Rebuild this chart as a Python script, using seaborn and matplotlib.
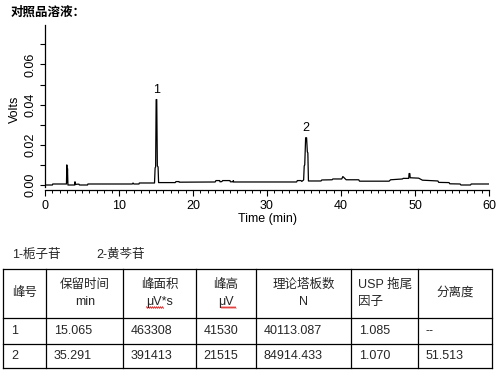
import numpy as np
import pandas as pd
import matplotlib
matplotlib.use("Agg")
import matplotlib.pyplot as plt
from matplotlib.ticker import MultipleLocator
import seaborn as sns

# ---------------- data ----------------
title = "对照品溶液："
x_label = "Time (min)"
y_label = "Volts"

time_min = [0.0, 1.0, 1.05, 2.90, 2.95, 2.99, 3.04, 3.10, 4.00, 4.05, 4.12, 4.30,
            4.60, 4.65, 5.75, 5.80, 11.8, 11.9, 12.0, 12.7, 12.75, 14.80, 14.88,
            14.95, 15.02, 15.10, 15.18, 15.28, 15.35, 17.6, 17.7, 18.1, 18.15,
            23.0, 23.1, 23.6, 23.65, 23.9, 24.0, 25.0, 25.05, 25.4, 25.45, 25.5,
            34.0, 34.1, 34.6, 34.7, 34.95, 35.03, 35.1, 35.22, 35.35, 35.45,
            35.52, 35.6, 37.3, 37.4, 38.8, 38.9, 40.1, 40.25, 40.45, 40.7, 42.4,
            42.5, 46.5, 46.7, 48.3, 48.4, 49.15, 49.2, 49.3, 49.35, 50.5, 51.0,
            53.1, 53.2, 54.6, 54.7, 56.1, 56.2, 57.5, 57.6, 60.0]
volts = [0.0000, 0.0000, 0.0005, 0.0005, 0.0100, 0.0015, 0.0082, 0.0000, 0.0000,
         0.0016, 0.0002, 0.0004, 0.0004, 0.0000, 0.0000, 0.0005, 0.0005, 0.0010,
         0.0005, 0.0005, 0.0010, 0.0010, 0.0085, 0.0090, 0.0425, 0.0425, 0.0095,
         0.0090, 0.0012, 0.0012, 0.0017, 0.0017, 0.0014, 0.0015, 0.0022, 0.0022,
         0.0016, 0.0017, 0.0022, 0.0022, 0.0016, 0.0016, 0.0022, 0.0015, 0.0015,
         0.0022, 0.0022, 0.0018, 0.0025, 0.0095, 0.0100, 0.0235, 0.0235, 0.0165,
         0.0160, 0.0020, 0.0020, 0.0025, 0.0026, 0.0030, 0.0030, 0.0042, 0.0035,
         0.0026, 0.0026, 0.0019, 0.0019, 0.0026, 0.0030, 0.0033, 0.0033, 0.0057,
         0.0057, 0.0036, 0.0034, 0.0024, 0.0020, 0.0013, 0.0012, 0.0006, 0.0005,
         0.0000, 0.0000, 0.0005, 0.0005]

peak_labels = ["1", "2"]
peak_rt = [15.065, 35.291]

legend_items = ["1-栀子苷", "2-黄芩苷"]
table_header = ["峰号", "保留时间\nmin", "峰面积\nμV*s", "峰高\nμV",
                "理论塔板数\nN", "USP 拖尾\n因子", "分离度"]
table_rows = [["1", "15.065", "463308", "41530", "40113.087", "1.085", "--"],
              ["2", "35.291", "391413", "21515", "84914.433", "1.070", "51.513"]]

# ---------------- style ----------------
sns.set_theme(style="ticks")
plt.rcParams["font.family"] = ["Liberation Sans", "Noto Sans CJK SC", "DejaVu Sans"]
plt.rcParams["axes.unicode_minus"] = False
FS = 9

W, H = 502, 379
fig = plt.figure(figsize=(W / 100, H / 100), dpi=100)

# ---------------- chromatogram ----------------
ax_left, ax_right, ax_top, ax_bottom = 45, 489, 25, 190
ax = fig.add_axes([ax_left / W, 1 - ax_bottom / H,
                   (ax_right - ax_left) / W, (ax_bottom - ax_top) / H])
df = pd.DataFrame({"time": time_min, "volts": volts})
sns.lineplot(data=df, x="time", y="volts", ax=ax, color="black",
             linewidth=0.9, estimator=None, sort=False)

px_per_unit = 20.1 / 0.01
ax.set_xlim(0, 60)
ax.set_ylim(-(ax_bottom - 185) / px_per_unit, (185 - ax_top) / px_per_unit)

for s in ["top", "right"]:
    ax.spines[s].set_visible(False)
ax.spines["left"].set_bounds(-0.0008, ax.get_ylim()[1])
ax.spines["bottom"].set_bounds(0, 60)
for s in ["left", "bottom"]:
    ax.spines[s].set_linewidth(0.9)
    ax.spines[s].set_color("black")

ax.xaxis.set_major_locator(MultipleLocator(10))
ax.xaxis.set_minor_locator(MultipleLocator(1))
ax.yaxis.set_major_locator(MultipleLocator(0.02))
ax.yaxis.set_minor_locator(MultipleLocator(0.01))
ax.tick_params(axis="x", which="major", length=4.5, width=0.8, color="black",
               labelsize=FS, pad=2.5, labelcolor="black")
ax.tick_params(axis="x", which="minor", length=2.2, width=0.7, color="black")
ax.tick_params(axis="y", which="both", length=3.6, width=0.8, color="black",
               labelsize=FS, pad=2.5, labelcolor="black")
ax.set_yticks([0.0, 0.02, 0.04, 0.06])
ax.set_yticklabels(["0.00", "0.02", "0.04", "0.06"], rotation=90, va="center")
ax.set_xticks([0, 10, 20, 30, 40, 50, 60])
ax.set_xticklabels([str(v) for v in [0, 10, 20, 30, 40, 50, 60]])

ax.set_xlabel(x_label, fontsize=FS, color="black", va="center")
ax.xaxis.set_label_coords(0.5, (ax_bottom - 219) / (ax_bottom - ax_top))
ax.set_ylabel(y_label, fontsize=FS, color="black", va="center")
ax.yaxis.set_label_coords((15 - ax_left) / (ax_right - ax_left), 0.49)

t_arr = np.array(time_min)
v_arr = np.array(volts)
for lab, rt in zip(peak_labels, peak_rt):
    m = np.abs(t_arr - rt) < 0.3
    h = v_arr[m].max()
    ax.annotate(lab, (rt, h), xytext=(0, 2.5), textcoords="offset points",
                ha="center", va="bottom", fontsize=FS, color="black")

fig.text(11 / W, 1 - 12.7 / H, title, fontsize=FS, fontweight="bold",
         ha="left", va="center", color="black")

# ---------------- table (pixel-space overlay) ----------------
tx = fig.add_axes([0, 0, 1, 1])
tx.set_xlim(0, W)
tx.set_ylim(H, 0)
tx.axis("off")
tx.patch.set_alpha(0)

tx.text(11.7, 255, legend_items[0], fontsize=FS, ha="left", va="center")
tx.text(96.7, 255, legend_items[1], fontsize=FS, ha="left", va="center")

col_x = [3.5, 46.5, 123.5, 196, 256, 351.5, 418, 492.5]
row_y = [268.5, 317.7, 343.5, 368]
lw = 0.9
for y in row_y:
    tx.plot([col_x[0], col_x[-1]], [y, y], color="black", lw=lw,
            solid_capstyle="projecting")
for x in col_x:
    tx.plot([x, x], [row_y[0], row_y[-1]], color="black", lw=lw,
            solid_capstyle="projecting")

hy = (row_y[0] + row_y[1]) / 2
for i, txt in enumerate(table_header):
    cx = (col_x[i] + col_x[i + 1]) / 2
    tx.text(cx, hy, txt, fontsize=FS, ha="center", va="center",
            linespacing=1.55, multialignment="left" if "USP" in txt else "center")

# red spell-check squiggles under the unit texts
for x0, x1 in [(146.5, 163.5), (221, 236)]:
    xs = np.arange(x0, x1 + 0.1, 1.0)
    ys = 307.5 + 0.8 * ((np.arange(len(xs)) % 2) * 2 - 1)
    tx.plot(xs, ys, color="#e03030", lw=0.7)

for r, row in enumerate(table_rows):
    cy = (row_y[r + 1] + row_y[r + 2]) / 2
    for i, txt in enumerate(row):
        tx.text(col_x[i] + 7.5, cy, txt, fontsize=FS, ha="left", va="center")

fig.savefig("out.png", dpi=100, facecolor="white")
